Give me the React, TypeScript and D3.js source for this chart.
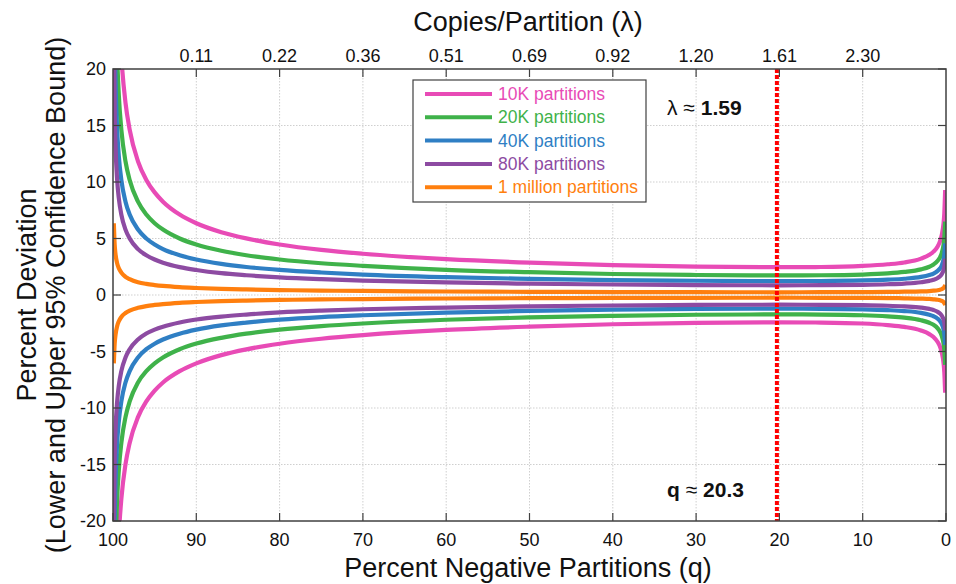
import React from "react";
import * as d3 from "d3";

const WIDTH = 956;
const HEIGHT = 584;
const MARGIN = { top: 69, right: 10, bottom: 62, left: 113 };
const FONT = "'Liberation Sans', Arial, Helvetica, sans-serif";

// percent negative partitions (q), left to right on screen
const qValues = [
  99.9, 99.8, 99.7, 99.5, 99.3, 99, 98.5, 98, 97, 96, 95, 94, 92, 90, 87, 84, 80, 75, 70, 60, 50, 40, 30, 20, 15,
  10, 7, 5, 3, 2, 1.5, 1, 0.7, 0.5, 0.3, 0.2, 0.1,
];

const pinkUpper = [
  77.35, 51.51, 40.91, 30.79, 25.63, 21.14, 17.02, 14.63, 11.83, 10.18, 9.08, 8.26, 7.12, 6.35, 5.56, 5.01, 4.47,
  3.99, 3.65, 3.17, 2.86, 2.65, 2.51, 2.46, 2.48, 2.58, 2.72, 2.88, 3.22, 3.56, 3.84, 4.3, 4.79, 5.33, 6.3, 7.25, 9.29,
];
const pinkLower = [
  -46.61, -36.15, -30.67, -24.65, -21.23, -18.06, -14.98, -13.09, -10.81, -9.42, -8.46, -7.74, -6.74, -6.05, -5.32,
  -4.81, -4.31, -3.87, -3.55, -3.09, -2.8, -2.59, -2.47, -2.42, -2.44, -2.52, -2.66, -2.82, -3.14, -3.46, -3.72,
  -4.16, -4.61, -5.11, -6.0, -6.85, -8.65,
];
const greenUpper = [
  51.51, 34.83, 27.87, 21.14, 17.67, 14.63, 11.82, 10.18, 8.26, 7.12, 6.35, 5.79, 5.0, 4.46, 3.91, 3.52, 3.14, 2.81,
  2.58, 2.23, 2.02, 1.86, 1.77, 1.74, 1.75, 1.81, 1.91, 2.04, 2.27, 2.5, 2.7, 3.03, 3.36, 3.74, 4.43, 5.09, 6.5,
];
const greenLower = [
  -36.15, -27.15, -22.75, -18.06, -15.47, -13.09, -10.8, -9.42, -7.74, -6.74, -6.05, -5.53, -4.8, -4.3, -3.79, -3.42,
  -3.06, -2.75, -2.52, -2.19, -1.98, -1.84, -1.75, -1.72, -1.73, -1.79, -1.89, -2.0, -2.23, -2.46, -2.64, -2.95,
  -3.28, -3.64, -4.27, -4.89, -6.18,
];
const blueUpper = [
  34.83, 23.84, 19.18, 14.63, 12.27, 10.18, 8.26, 7.12, 5.79, 5.0, 4.47, 4.06, 3.52, 3.14, 2.75, 2.48, 2.22, 1.99,
  1.81, 1.58, 1.43, 1.32, 1.26, 1.23, 1.24, 1.29, 1.36, 1.44, 1.6, 1.77, 1.9, 2.14, 2.37, 2.64, 3.12, 3.58, 4.57,
];
const blueLower = [
  -27.15, -20.0, -16.62, -13.09, -11.17, -9.42, -7.74, -6.74, -5.53, -4.8, -4.31, -3.94, -3.42, -3.06, -2.69, -2.44,
  -2.18, -1.95, -1.79, -1.56, -1.41, -1.3, -1.24, -1.21, -1.22, -1.27, -1.34, -1.42, -1.58, -1.75, -1.88, -2.1, -2.33,
  -2.58, -3.04, -3.48, -4.41,
];
const purpleUpper = [
  23.83, 16.46, 13.29, 10.18, 8.55, 7.12, 5.79, 5.0, 4.06, 3.51, 3.14, 2.86, 2.47, 2.21, 1.93, 1.75, 1.56, 1.4, 1.28,
  1.11, 1.0, 0.93, 0.88, 0.86, 0.87, 0.9, 0.95, 1.01, 1.13, 1.25, 1.35, 1.51, 1.67, 1.86, 2.19, 2.51, 3.21,
];
const purpleLower = [
  -19.99, -14.54, -12.01, -9.42, -8.01, -6.74, -5.53, -4.8, -3.94, -3.41, -3.06, -2.8, -2.43, -2.17, -1.91, -1.73,
  -1.54, -1.38, -1.26, -1.11, -1.0, -0.93, -0.88, -0.86, -0.87, -0.9, -0.95, -1.01, -1.11, -1.23, -1.33, -1.49,
  -1.65, -1.84, -2.15, -2.47, -3.13,
];
const orangeUpper = [
  6.35, 4.46, 3.63, 2.8, 2.36, 1.98, 1.61, 1.4, 1.13, 0.98, 0.88, 0.8, 0.69, 0.62, 0.54, 0.49, 0.44, 0.39, 0.36, 0.31,
  0.28, 0.26, 0.25, 0.24, 0.25, 0.26, 0.27, 0.29, 0.32, 0.35, 0.38, 0.42, 0.47, 0.52, 0.62, 0.71, 0.9,
];
const orangeLower = [
  -6.05, -4.3, -3.53, -2.74, -2.32, -1.94, -1.59, -1.38, -1.13, -0.98, -0.88, -0.8, -0.69, -0.62, -0.54, -0.49,
  -0.44, -0.39, -0.36, -0.31, -0.28, -0.26, -0.25, -0.24, -0.25, -0.26, -0.27, -0.29, -0.32, -0.35, -0.38, -0.42,
  -0.47, -0.52, -0.62, -0.71, -0.9,
];

const seriesNames = ["10K partitions", "20K partitions", "40K partitions", "80K partitions", "1 million partitions"];
const seriesColors = ["#e84bb6", "#3fb24a", "#2f7fc4", "#8d4ba2", "#ff7f0e"];
const seriesUpper = [pinkUpper, greenUpper, blueUpper, purpleUpper, orangeUpper];
const seriesLower = [pinkLower, greenLower, blueLower, purpleLower, orangeLower];

const xTicks = [100, 90, 80, 70, 60, 50, 40, 30, 20, 10, 0];
const yTicks = [20, 15, 10, 5, 0, -5, -10, -15, -20];
const topTickQ = [90, 80, 70, 60, 50, 40, 30, 20, 10];
const topTickLabels = ["0.11", "0.22", "0.36", "0.51", "0.69", "0.92", "1.20", "1.61", "2.30"];

const markerQ = 20.3;

export default function App() {
  const innerW = WIDTH - MARGIN.left - MARGIN.right;
  const innerH = HEIGHT - MARGIN.top - MARGIN.bottom - 1;
  const x = d3.scaleLinear().domain([100, 0]).range([0, innerW]);
  const y = d3.scaleLinear().domain([-20, 20]).range([innerH, 0]);

  const line = d3
    .line<[number, number]>()
    .x((d) => x(d[0]))
    .y((d) => y(d[1]))
    .curve(d3.curveMonotoneX);

  const tickLen = 8;
  const axisColor = "#404040";

  return (
    <svg
      width={WIDTH}
      height={HEIGHT}
      style={{ position: "absolute", left: 0, top: 0, background: "#fff" }}
      fontFamily={FONT}
    >
      <defs>
        <clipPath id="plot-clip">
          <rect x={0} y={0} width={innerW} height={innerH} />
        </clipPath>
      </defs>

      {/* axis titles */}
      <text x={528} y={31} textAnchor="middle" fontSize={27} fill="#111">
        Copies/Partition (λ)
      </text>
      <text x={528} y={577} textAnchor="middle" fontSize={27} fill="#111">
        Percent Negative Partitions (q)
      </text>
      <text transform="translate(36,295) rotate(-90)" textAnchor="middle" fontSize={27} fill="#111">
        Percent Deviation
      </text>
      <text transform="translate(65,295) rotate(-90)" textAnchor="middle" fontSize={27} fill="#111">
        (Lower and Upper 95% Confidence Bound)
      </text>

      <g transform={`translate(${MARGIN.left},${MARGIN.top})`}>
        {/* grid */}
        {xTicks.slice(1, -1).map((t) => (
          <line key={`gx${t}`} x1={x(t)} x2={x(t)} y1={0} y2={innerH} stroke="#cfcfcf" strokeDasharray="1.5 1.5" />
        ))}
        {yTicks.slice(1, -1).map((t) => (
          <line key={`gy${t}`} x1={0} x2={innerW} y1={y(t)} y2={y(t)} stroke="#cfcfcf" strokeDasharray="1.5 1.5" />
        ))}

        {/* curves */}
        <g clipPath="url(#plot-clip)">
          {seriesNames.map((name, i) => (
            <g key={name}>
              <path
                d={line(qValues.map((q, j) => [q, seriesUpper[i][j]] as [number, number])) || ""}
                fill="none"
                stroke={seriesColors[i]}
                strokeWidth={4.2}
              />
              <path
                d={line(qValues.map((q, j) => [q, seriesLower[i][j]] as [number, number])) || ""}
                fill="none"
                stroke={seriesColors[i]}
                strokeWidth={4.2}
              />
            </g>
          ))}
        </g>

        {/* marker line */}
        <line
          x1={x(markerQ)}
          x2={x(markerQ)}
          y1={0}
          y2={innerH}
          stroke="#ff0000"
          strokeWidth={4}
          strokeDasharray="4 2"
        />

        {/* frame */}
        <rect x={0} y={0} width={innerW} height={innerH} fill="none" stroke={axisColor} strokeWidth={1.5} />

        {/* bottom ticks */}
        {xTicks.map((t) => (
          <g key={`bx${t}`}>
            <line x1={x(t)} x2={x(t)} y1={innerH} y2={innerH - tickLen} stroke={axisColor} strokeWidth={1.2} />
            <text x={x(t)} y={innerH + 25} textAnchor="middle" fontSize={18} fill="#111">
              {t}
            </text>
          </g>
        ))}
        {/* top ticks */}
        {topTickQ.map((q, i) => (
          <g key={`tx${q}`}>
            <line x1={x(q)} x2={x(q)} y1={0} y2={tickLen} stroke={axisColor} strokeWidth={1.2} />
            <text x={x(q)} y={-7} textAnchor="middle" fontSize={18} fill="#111">
              {topTickLabels[i]}
            </text>
          </g>
        ))}
        {/* left / right ticks */}
        {yTicks.map((t) => (
          <g key={`ly${t}`}>
            <line x1={0} x2={tickLen} y1={y(t)} y2={y(t)} stroke={axisColor} strokeWidth={1.2} />
            <line x1={innerW} x2={innerW - tickLen} y1={y(t)} y2={y(t)} stroke={axisColor} strokeWidth={1.2} />
            <text x={-7} y={y(t) + 6} textAnchor="end" fontSize={18} fill="#111">
              {t}
            </text>
          </g>
        ))}

        {/* annotations */}
        <text x={554} y={46} fontSize={21} fill="#111">
          <tspan>λ ≈ </tspan>
          <tspan fontWeight="bold">1.59</tspan>
        </text>
        <text x={554} y={428} fontSize={21} fill="#111">
          <tspan fontWeight="bold">q</tspan>
          <tspan> ≈ </tspan>
          <tspan fontWeight="bold">20.3</tspan>
        </text>

        {/* legend */}
        <g transform="translate(300,11)">
          <rect x={0} y={0} width={233} height={122} fill="#fff" stroke={axisColor} strokeWidth={1.2} />
          {seriesNames.map((name, i) => (
            <g key={`lg${name}`} transform={`translate(0,${14 + i * 23.3})`}>
              <line x1={12} x2={79} y1={0} y2={0} stroke={seriesColors[i]} strokeWidth={4} />
              <text x={85} y={6} fontSize={17.5} fill={seriesColors[i]}>
                {name}
              </text>
            </g>
          ))}
        </g>
      </g>
    </svg>
  );
}
